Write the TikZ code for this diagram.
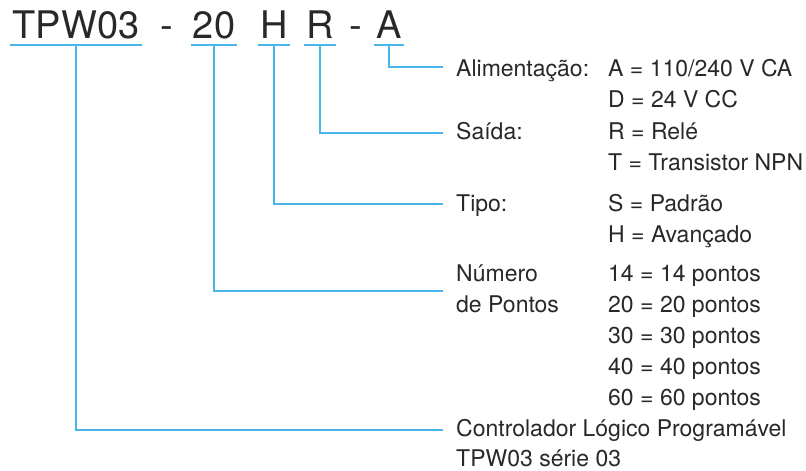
\documentclass[tikz,border=0pt]{standalone}
\usepackage{fontspec}
\setmainfont{TeX Gyre Heros}
\definecolor{linkblue}{RGB}{72,182,232}
\definecolor{txtgray}{RGB}{40,40,40}

\begin{document}
\begin{tikzpicture}[x=1pt, y=-1pt,
    code/.style={anchor=base, inner sep=0, text=txtgray, font=\fontsize{38}{40}\selectfont},
    lbl/.style={anchor=base west, inner sep=0, text=txtgray, font=\fontsize{23}{28}\selectfont},
    link/.style={draw=linkblue, line width=1.6pt}]
  \useasboundingbox (0,0) rectangle (806,471);
  % model code
  \node[code] (tpw) at (76,38) {TPW03};
  \node[code] (dash1) at (167,38) {-};
  \node[code] (pts) at (214,38) {20};
  \node[code] (tipo) at (274,38) {H};
  \node[code] (said) at (320,38) {R};
  \node[code] (dash2) at (356,38) {-};
  \node[code] (alim) at (389,38) {A};
  \foreach \n in {tpw,pts,tipo,said,alim}
    \draw[link] ([xshift=-2pt,yshift=-7pt]\n.base west) -- ([xshift=2pt,yshift=-7pt]\n.base east);
  % legend
  \node[lbl] (lalim) at (456,76) {Alimentação:};
  \node[lbl] (valA) at (608,76) {A = 110/240 V CA};
  \node[lbl] (valD) at (608,107) {D = 24 V CC};
  \node[lbl] (lsaid) at (456,139) {Saída:};
  \node[lbl] (valR) at (608,139) {R = Relé};
  \node[lbl] (valT) at (608,170) {T = Transistor NPN};
  \node[lbl] (ltipo) at (456,211) {Tipo:};
  \node[lbl] (valS) at (608,211) {S = Padrão};
  \node[lbl] (valH) at (608,242) {H = Avançado};
  \node[lbl] (lnum) at (456,281) {Número};
  \node[lbl] (lpts) at (456,312) {de Pontos};
  \node[lbl] (v14) at (608,281) {14 = 14 pontos};
  \node[lbl] (v20) at (608,312) {20 = 20 pontos};
  \node[lbl] (v30) at (608,343) {30 = 30 pontos};
  \node[lbl] (v40) at (608,374) {40 = 40 pontos};
  \node[lbl] (v60) at (608,405) {60 = 60 pontos};
  \node[lbl] (lclp) at (456,436) {Controlador Lógico Programável};
  \node[lbl] (lser) at (456,466) {TPW03 série 03};
  % connectors
  \draw[link] ([yshift=-7pt]alim.base) |- ([xshift=-13pt,yshift=9pt]lalim.base west);
  \draw[link] ([yshift=-7pt]said.base) |- ([xshift=-13pt,yshift=6pt]lsaid.base west);
  \draw[link] ([yshift=-7pt]tipo.base) |- ([xshift=-13pt,yshift=7pt]ltipo.base west);
  \draw[link] ([yshift=-7pt]pts.base) |- ([xshift=-13pt,yshift=-10pt]lnum.base west);
  \draw[link] ([yshift=-7pt]tpw.base) |- ([xshift=-13pt,yshift=6pt]lclp.base west);
\end{tikzpicture}
\end{document}
